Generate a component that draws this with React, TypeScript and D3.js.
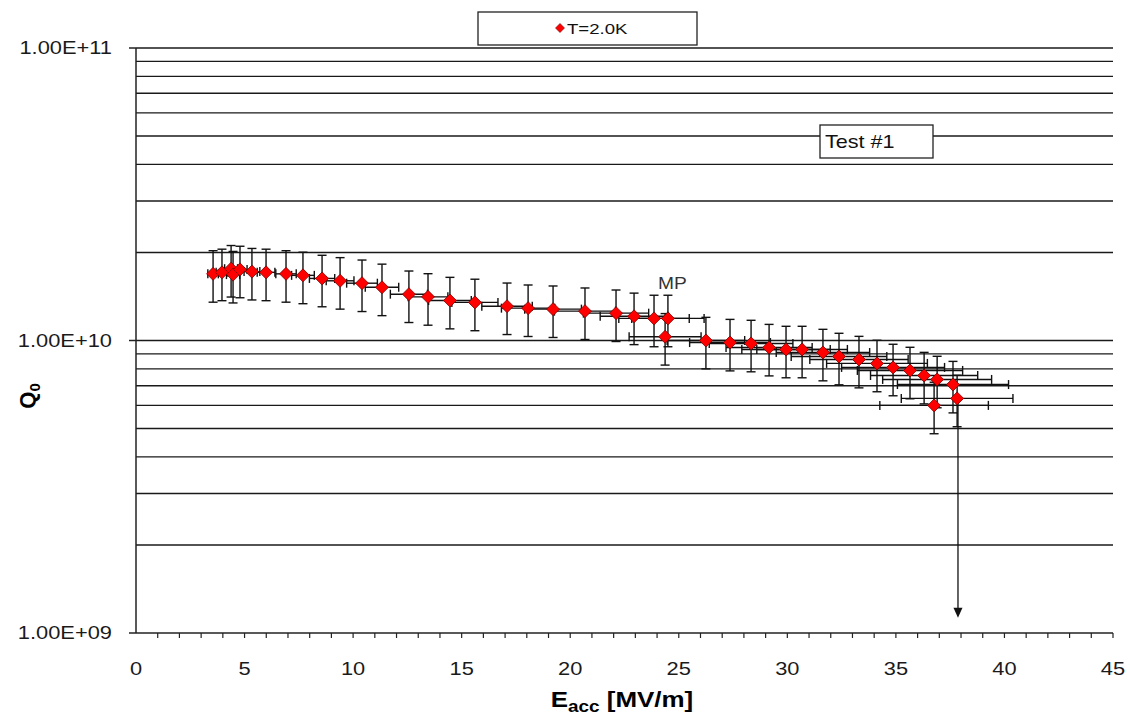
import React from "react";
import * as d3 from "d3";

const eacc = [3.55, 3.96, 4.38, 4.47, 4.79, 5.34, 5.99, 6.91, 7.69, 8.57, 9.4, 10.41, 11.33, 12.57, 13.45, 14.46, 15.61, 17.09, 18.06, 19.21, 20.68, 22.11, 22.94, 23.86, 24.5, 24.37, 26.25, 27.36, 28.33, 29.16, 29.94, 30.68, 31.64, 32.38, 33.3, 34.13, 34.87, 35.65, 36.3, 36.9, 37.63, 37.82, 36.76];
const q0 = [1.69e10, 1.71e10, 1.76e10, 1.68e10, 1.75e10, 1.72e10, 1.71e10, 1.69e10, 1.67e10, 1.63e10, 1.6e10, 1.57e10, 1.52e10, 1.44e10, 1.41e10, 1.37e10, 1.35e10, 1.31e10, 1.29e10, 1.28e10, 1.26e10, 1.24e10, 1.21e10, 1.19e10, 1.19e10, 1.03e10, 1.0e10, 9.84e9, 9.77e9, 9.46e9, 9.32e9, 9.32e9, 9.1e9, 8.82e9, 8.61e9, 8.35e9, 8.09e9, 7.9e9, 7.59e9, 7.36e9, 7.07e9, 6.34e9, 6.0e9];
const qErrFrac = 0.2;
const eErrFrac = 0.068;
const xTicks = [0, 5, 10, 15, 20, 25, 30, 35, 40, 45];
const yTicks = [1e9, 1e10, 1e11];
const yTickLabels = ["1.00E+09", "1.00E+10", "1.00E+11"];
const legendLabel = "T=2.0K";
const testLabel = "Test #1";
const mpLabel = "MP";
const mpIndex = 24;
const arrowFrom = { e: 37.86, q: 6.34e9 };
const arrowTo = { e: 37.86, q: 1.2e9 };

const SX = 1.15;

function T(props: { x: number; y: number; size: number; anchor?: string; weight?: string; fill?: string; sx?: number; children: React.ReactNode }) {
  const { x, y, size, anchor = "start", weight = "normal", fill = "#1a1a1a", sx = SX, children } = props;
  return (
    <g transform={`translate(${x},${y}) scale(${sx},1)`}>
      <text x={0} y={0} fontSize={size} textAnchor={anchor as any} fontWeight={weight} fill={fill}>
        {children}
      </text>
    </g>
  );
}

export default function App() {
  const W = 1130, H = 718;
  const x = d3.scaleLinear().domain([0, 45]).range([136, 1113]);
  const y = d3.scaleLog().domain([1e9, 1e11]).range([633, 48]);
  const grid: number[] = [];
  [1e9, 1e10].forEach((d) => {
    for (let k = 2; k <= 10; k++) grid.push(d * k);
  });
  const minorX = d3.range(1, 46);
  const font = "'Liberation Sans', Arial, sans-serif";
  const cap = 4.5;
  const pts = eacc.map((e, i) => ({ e, q: q0[i] }));
  const ax = x(arrowFrom.e);
  const ay1 = y(arrowFrom.q);
  const ay2 = y(arrowTo.q);
  return (
    <svg width={W} height={H} style={{ position: "absolute", left: 0, top: 0, background: "#fff" }} fontFamily={font}>
      {grid.map((g, i) => (
        <line key={"g" + i} x1={x(0)} x2={x(45)} y1={y(g)} y2={y(g)} stroke="#1a1a1a" strokeWidth={1.4} />
      ))}
      <line x1={x(0)} x2={x(0)} y1={y(1e11)} y2={y(1e9)} stroke="#222" strokeWidth={1.5} />
      <line x1={x(0)} x2={x(45)} y1={y(1e9)} y2={y(1e9)} stroke="#222" strokeWidth={1.5} />
      {minorX.map((t) => (
        <line key={"mx" + t} x1={x(t)} x2={x(t)} y1={y(1e9)} y2={y(1e9) + 5} stroke="#222" strokeWidth={1.2} />
      ))}
      {yTicks.map((t) => (
        <line key={"yt" + t} x1={x(0) - 7} x2={x(0)} y1={y(t)} y2={y(t)} stroke="#222" strokeWidth={1.5} />
      ))}
      {xTicks.map((t) => (
        <T key={"xl" + t} x={x(t)} y={675} size={19} anchor="middle">{t}</T>
      ))}
      {yTicks.map((t, i) => (
        <T key={"yl" + t} x={112} y={y(t) + 6} size={19} anchor="end">{yTickLabels[i]}</T>
      ))}
      <T x={622} y={707} size={22} anchor="middle" weight="bold" fill="#000" sx={1.18}>
        E<tspan fontSize={16} dy={5}>acc</tspan><tspan dy={-5}> [MV/m]</tspan>
      </T>
      <text transform={`translate(35,396) rotate(-90)`} textAnchor="middle" fontSize={22} fontWeight="bold" fill="#000">
        Q<tspan fontSize={15} dy={5}>0</tspan>
      </text>
      {pts.map((p, i) => {
        const cx = x(p.e), cy = y(p.q);
        const yt = y(p.q * (1 + qErrFrac)), yb = y(p.q * (1 - qErrFrac));
        const xl = x(p.e * (1 - eErrFrac)), xr = x(p.e * (1 + eErrFrac));
        return (
          <g key={"eb" + i} stroke="#111" strokeWidth={1.4}>
            <line x1={cx} x2={cx} y1={yt} y2={yb} />
            <line x1={cx - cap} x2={cx + cap} y1={yt} y2={yt} />
            <line x1={cx - cap} x2={cx + cap} y1={yb} y2={yb} />
            <line x1={xl} x2={xr} y1={cy} y2={cy} />
            <line x1={xl} x2={xl} y1={cy - cap} y2={cy + cap} />
            <line x1={xr} x2={xr} y1={cy - cap} y2={cy + cap} />
          </g>
        );
      })}
      <line x1={ax} x2={ax} y1={ay1} y2={ay2} stroke="#111" strokeWidth={1.3} />
      <path d={`M${ax - 4.5},${ay2 - 2} L${ax + 4.5},${ay2 - 2} L${ax},${ay2 + 8} Z`} fill="#111" />
      {pts.map((p, i) => {
        const cx = x(p.e), cy = y(p.q);
        const r = 6.5;
        return (
          <path key={"m" + i} d={`M${cx},${cy - r} L${cx + r},${cy} L${cx},${cy + r} L${cx - r},${cy} Z`} fill="#ff0000" stroke="#7a0000" strokeWidth={0.8} />
        );
      })}
      <T x={x(eacc[mpIndex]) - 10} y={y(q0[mpIndex]) - 29} size={16} fill="#333" sx={1.2}>{mpLabel}</T>
      <rect x={820} y={125} width={113} height={33} fill="#fff" stroke="#222" strokeWidth={1.3} />
      <T x={825} y={148} size={18} fill="#111" sx={1.2}>{testLabel}</T>
      <rect x={478} y={12} width={219} height={33} fill="#fff" stroke="#222" strokeWidth={1.3} />
      <path d="M560,23.5 L564.5,28 L560,32.5 L555.5,28 Z" fill="#ff0000" stroke="#7a0000" strokeWidth={0.6} />
      <T x={567} y={34} size={15.5} fill="#111" sx={1.2}>{legendLabel}</T>
    </svg>
  );
}
